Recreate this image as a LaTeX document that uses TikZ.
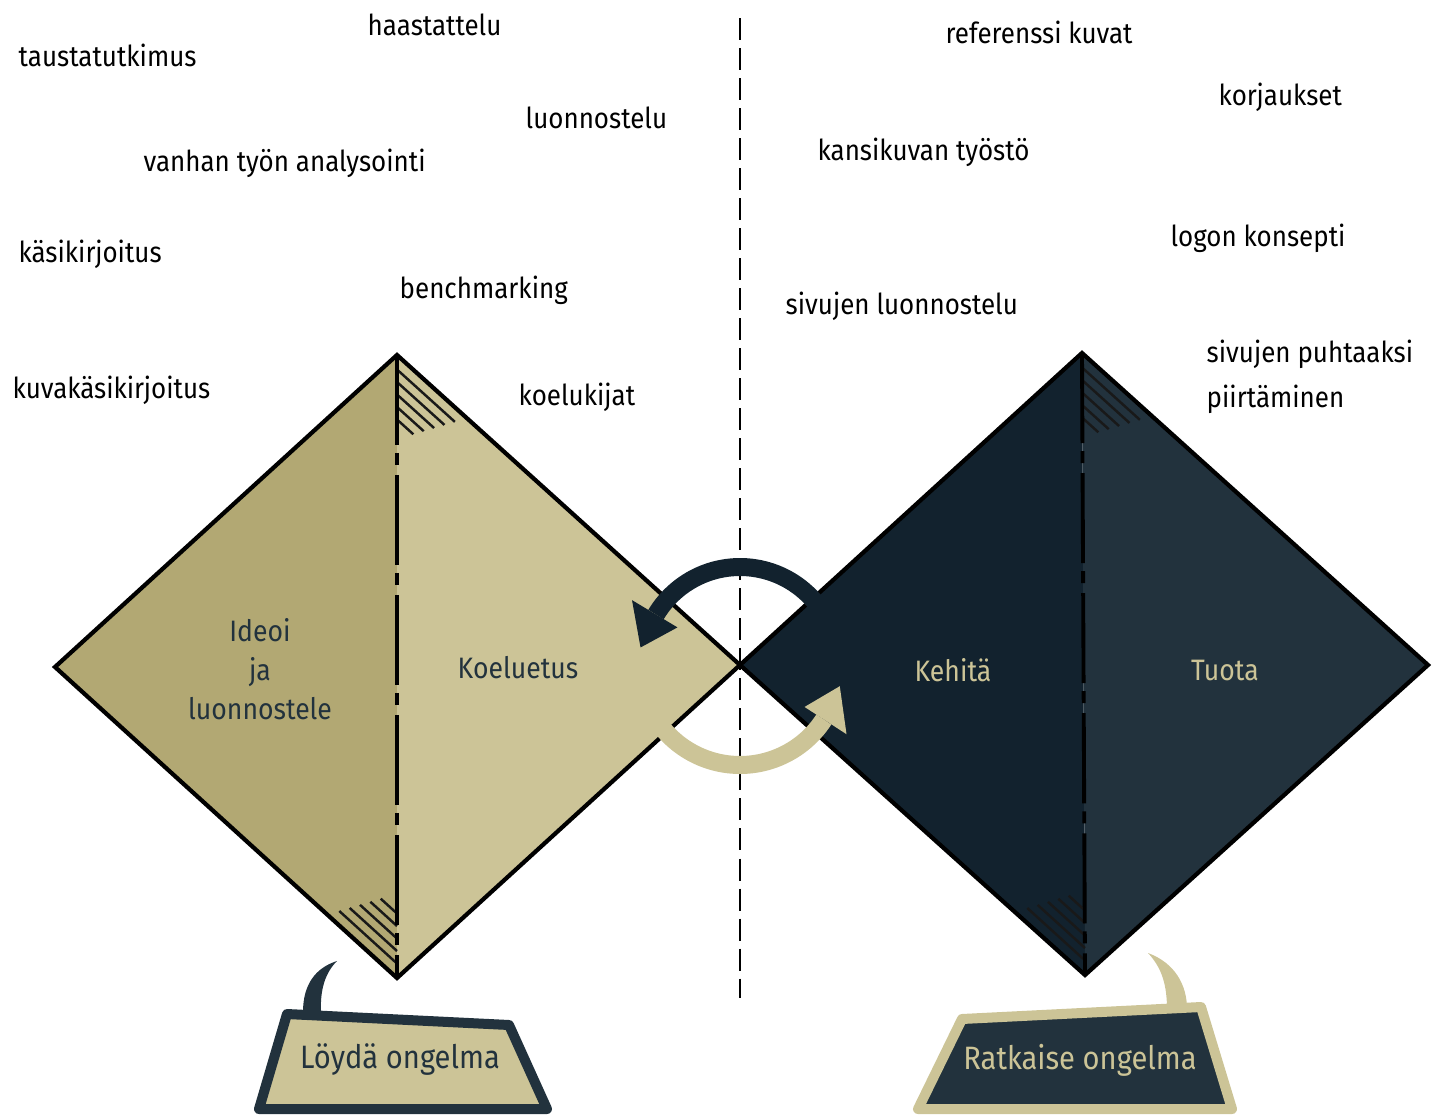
\documentclass[tikz,border=0pt]{standalone}
\usepackage{fontspec}
\setmainfont{Fira Sans}[FakeStretch=0.9]
\usetikzlibrary{positioning}

\definecolor{khakidark}{HTML}{B2A873}
\definecolor{khakilight}{HTML}{CCC497}
\definecolor{navydark}{HTML}{12222E}
\definecolor{navylight}{HTML}{22323D}

\begin{document}
\begin{tikzpicture}[x=0.01cm,y=-0.01cm,
    item/.style={anchor=west,inner sep=0pt,font=\fontsize{8.2}{12.8}\selectfont,align=left},
    phase/.style={inner sep=0pt,font=\fontsize{8.4}{11}\selectfont,align=center},
    goal/.style={inner sep=0pt,font=\fontsize{9.2}{11}\selectfont},
    edge/.style={line width=1.2pt,line join=miter},
    split/.style={line width=1.1pt,dash pattern=on 0.9cm off 0.08cm on 0.12cm off 0.1cm},
    hatch/.style={line width=0.7pt,black!90},
    bubble/.style={line width=0.1cm,line join=round},
    loop/.style={line width=0.18cm}]
    \useasboundingbox (0,0) rectangle (1433,1115);

    \coordinate (lt) at (397,355);
    \coordinate (ll) at (55,667);
    \coordinate (lb) at (397,978);
    \coordinate (mid) at (740,665);
    \coordinate (rt) at (1082,353);
    \coordinate (rb) at (1085,975);
    \coordinate (rr) at (1428,665);

    \fill[khakidark] (lt) -- (ll) -- (lb) -- cycle;
    \fill[khakilight] (lt) -- (mid) -- (lb) -- cycle;
    \fill[navydark] (rt) -- (mid) -- (rb) -- cycle;
    \fill[navylight] (rt) -- (rr) -- (rb) -- cycle;

    \foreach \k/\len in {1/78,2/64,3/50,4/36,5/22} {
        \draw[hatch] (397,{355+2+12.5*\k}) -- ++({0.742*\len},{0.671*\len});
        \draw[hatch] (397,{978-2-12.5*\k}) -- ++({-0.740*\len},{-0.673*\len});
        \draw[hatch] (1082,{353+2+12.5*\k}) -- ++({0.742*\len},{0.671*\len});
        \draw[hatch] (1085,{975-2-12.5*\k}) -- ++({-0.740*\len},{-0.673*\len});
    }

    \draw[edge] (lt) -- (ll) -- (lb) -- (mid) -- cycle;
    \draw[edge] (rt) -- (mid) -- (rb) -- (rr) -- cycle;
    \draw[split] (lt) -- (lb);
    \draw[split] (rt) -- (rb);

    \draw[line width=0.8pt,dash pattern=on 0.22cm off 0.08cm] (740,18) -- (740,998);

    \draw[loop,navydark] plot[domain=30:149,samples=50] ({740+98*cos(\x)},{665-98*sin(\x)});
    \fill[navydark] ({740+73*cos(149)},{665-73*sin(149)}) -- ({740+126*cos(149)},{665-126*sin(149)})
        -- ({740+101*cos(170)},{665-101*sin(170)}) -- cycle;
    \draw[loop,khakilight] plot[domain=215:327,samples=50] ({740+100*cos(\x)},{665-100*sin(\x)});
    \fill[khakilight] ({740+77*cos(327)},{665-77*sin(327)}) -- ({740+127*cos(327)},{665-127*sin(327)})
        -- ({740+102*cos(348)},{665-102*sin(348)}) -- cycle;

    \node[phase,text=navylight] (ideoi) at (260,669) {Ideoi\\ja\\luonnostele};
    \node[phase,text=navylight] (koeluetus) at (518,668) {Koeluetus};
    \node[phase,text=khakilight] (kehita) at (953,670) {Kehitä};
    \node[phase,text=khakilight] (tuota) at (1225,670) {Tuota};

    \node[item] (taustatutkimus) at (18,55) {taustatutkimus};
    \node[item] (haastattelu) at (367,25) {haastattelu};
    \node[item] (luonnostelu) at (525,118) {luonnostelu};
    \node[item] (analysointi) at (143,163) {vanhan työn analysointi};
    \node[item] (kasikirjoitus) at (18,254) {käsikirjoitus};
    \node[item] (benchmarking) at (399,290) {benchmarking};
    \node[item] (kuvakasikirjoitus) at (12,390) {kuvakäsikirjoitus};
    \node[item] (koelukijat) at (518,397) {koelukijat};
    \node[item] (referenssi) at (945,32) {referenssi kuvat};
    \node[item] (korjaukset) at (1218,97) {korjaukset};
    \node[item] (kansikuva) at (817,152) {kansikuvan työstö};
    \node[item] (logo) at (1170,238) {logon konsepti};
    \node[item] (sivuluonnos) at (785,306) {sivujen luonnostelu};
    \node[item] (puhtaaksi) at (1206,377) {sivujen puhtaaksi\\piirtäminen};

    \fill[navylight] (303,1012) .. controls (303,985) and (315,968) .. (337,961)
        .. controls (325,973) and (320,990) .. (321,1012) -- cycle;
    \draw[bubble,draw=navylight,fill=khakilight] (287,1014) -- (509,1025) -- (547,1109) -- (259,1109) -- cycle;
    \node[goal,text=navylight] (loyda) at (400,1060) {Löydä ongelma};

    \fill[khakilight] (1148,953) .. controls (1175,963) and (1187,985) .. (1187,1009)
        -- (1167,1010) .. controls (1167,985) and (1162,968) .. (1148,953) -- cycle;
    \draw[bubble,draw=khakilight,fill=navylight] (962,1019) -- (1201,1007) -- (1232,1109) -- (918,1109) -- cycle;
    \node[goal,text=khakilight] (ratkaise) at (1080,1060) {Ratkaise ongelma};
\end{tikzpicture}
\end{document}
